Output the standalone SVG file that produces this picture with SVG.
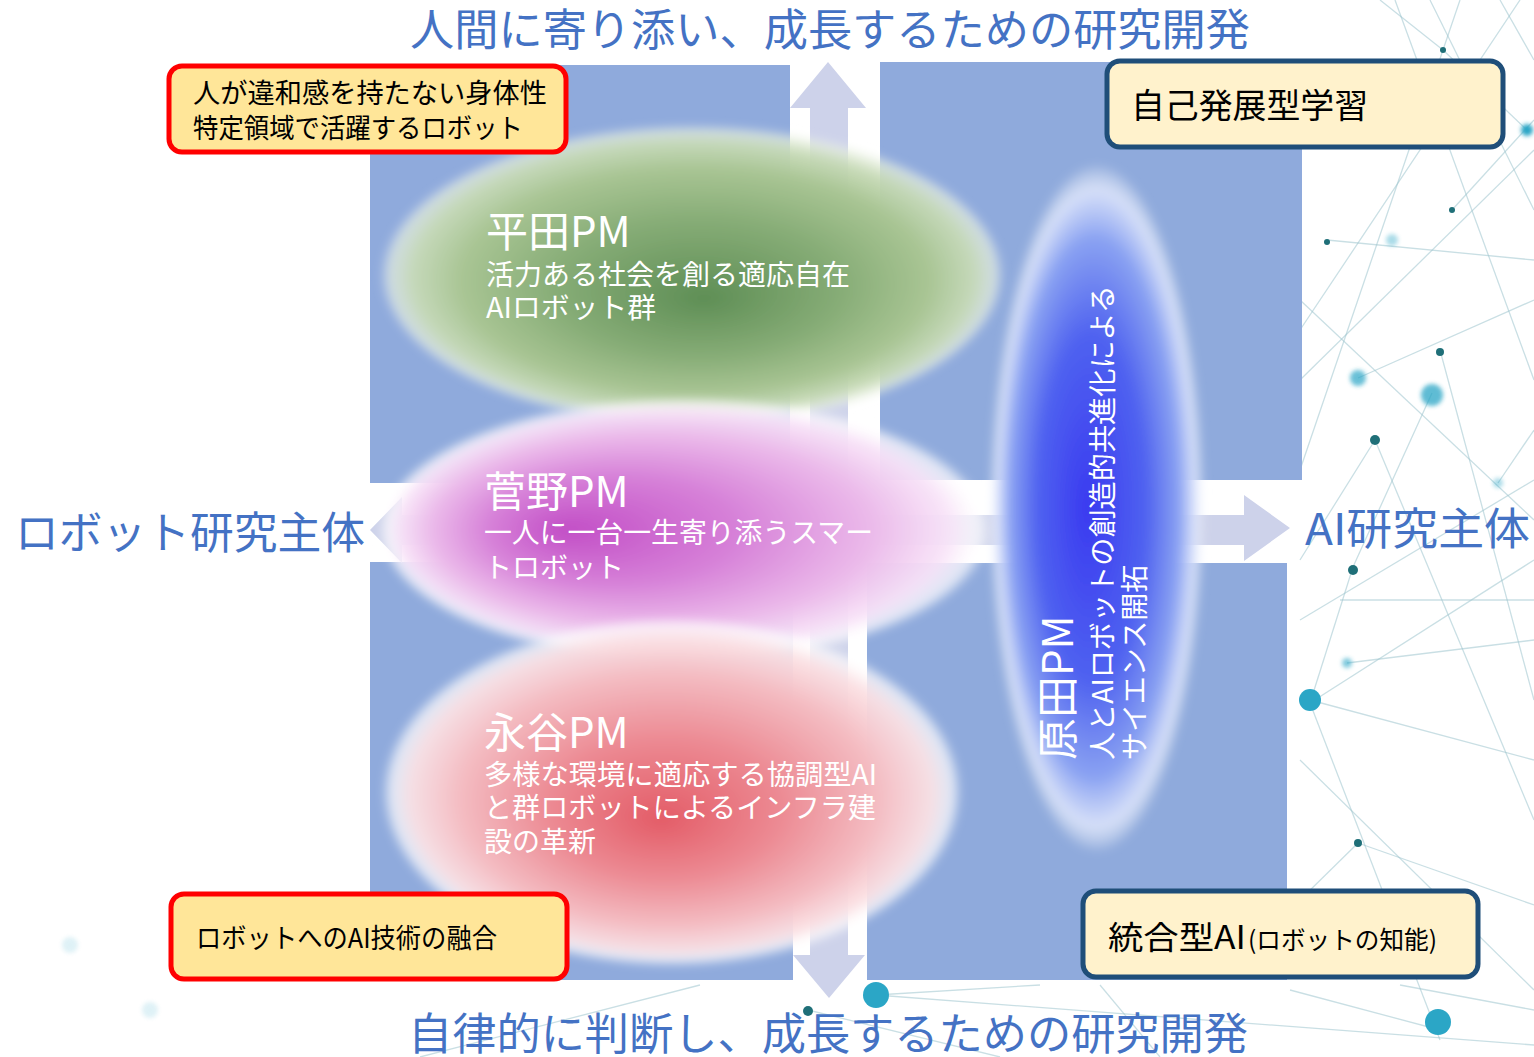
<svg xmlns="http://www.w3.org/2000/svg" width="1534" height="1057" viewBox="0 0 1534 1057">
<style>
.jp{font-family:"Noto Sans CJK JP","Noto Sans",sans-serif;}
.axis{fill:#4472C4;font-size:44px;}
.quad{fill:#8FAADC;}
.arrow{fill:#CDD2EA;}
.pmT{fill:#FFFFFF;font-size:42px;}
.pmS{fill:#FFFFFF;font-size:28px;}
.redbox{fill:#FFE699;stroke:#FF0000;stroke-width:5;}
.navybox{fill:#FFF2CC;stroke:#1F4E79;stroke-width:5;}
.btxt{fill:#000000;}
.net line{stroke:#9EC5CE;stroke-width:1.3;opacity:0.55;}
.dk{fill:#1F6F78;}
.tl{fill:#2BA6C6;}
</style>
<defs>
<filter id="soft" x="-20%" y="-20%" width="140%" height="140%"><feGaussianBlur stdDeviation="5"/></filter>
<filter id="dotblur" x="-100%" y="-100%" width="300%" height="300%"><feGaussianBlur stdDeviation="2"/></filter>
<radialGradient id="gGreen" cx="0.5" cy="0.5" r="0.5" fx="0.52" fy="0.58">
<stop offset="0" stop-color="#5E8E55"/>
<stop offset="0.45" stop-color="#86AC76"/>
<stop offset="0.75" stop-color="#A9C594"/>
<stop offset="0.9" stop-color="#C8DBB8" stop-opacity="0.95"/>
<stop offset="0.97" stop-color="#E8F0E0" stop-opacity="0.7"/>
<stop offset="1" stop-color="#FFFFFF" stop-opacity="0"/>
</radialGradient>
<radialGradient id="gPink" cx="0.5" cy="0.5" r="0.5" fx="0.3" fy="0.5">
<stop offset="0" stop-color="#C24EC6"/>
<stop offset="0.4" stop-color="#D680D8"/>
<stop offset="0.72" stop-color="#EBBAEA"/>
<stop offset="0.9" stop-color="#F8E4F8" stop-opacity="0.95"/>
<stop offset="0.97" stop-color="#FFFFFF" stop-opacity="0.7"/>
<stop offset="1" stop-color="#FFFFFF" stop-opacity="0"/>
</radialGradient>
<radialGradient id="gRed" cx="0.5" cy="0.5" r="0.5" fx="0.48" fy="0.58">
<stop offset="0" stop-color="#E35C67"/>
<stop offset="0.4" stop-color="#EC8A93"/>
<stop offset="0.72" stop-color="#F4BCC2"/>
<stop offset="0.9" stop-color="#FBE2E5" stop-opacity="0.95"/>
<stop offset="0.97" stop-color="#FFFFFF" stop-opacity="0.7"/>
<stop offset="1" stop-color="#FFFFFF" stop-opacity="0"/>
</radialGradient>
<radialGradient id="gBlue" cx="0.5" cy="0.5" r="0.5" fx="0.45" fy="0.5">
<stop offset="0" stop-color="#3A3AF0"/>
<stop offset="0.5" stop-color="#4F62F0"/>
<stop offset="0.78" stop-color="#8AA2F2"/>
<stop offset="0.92" stop-color="#DDE5FB" stop-opacity="0.9"/>
<stop offset="1" stop-color="#FFFFFF" stop-opacity="0"/>
</radialGradient>
</defs>
<rect x="0" y="0" width="1534" height="1057" fill="#FFFFFF"/>

<g id="background-network" class="net">
<line x1="1430" y1="0" x2="1534" y2="210"/>
<line x1="1300" y1="380" x2="1534" y2="150"/>
<line x1="1300" y1="300" x2="1534" y2="520"/>
<line x1="1310" y1="703" x2="1534" y2="560"/>
<line x1="1310" y1="703" x2="1440" y2="1040"/>
<line x1="1358" y1="378" x2="1534" y2="300"/>
<line x1="1375" y1="440" x2="1534" y2="820"/>
<line x1="1353" y1="567" x2="1310" y2="703"/>
<line x1="1300" y1="620" x2="1534" y2="480"/>
<line x1="1460" y1="0" x2="1300" y2="470"/>
<line x1="1520" y1="0" x2="1300" y2="330"/>
<line x1="1358" y1="843" x2="1534" y2="905"/>
<line x1="1440" y1="350" x2="1534" y2="700"/>
<line x1="1452" y1="210" x2="1534" y2="120"/>
<line x1="1327" y1="240" x2="1534" y2="260"/>
<line x1="1432" y1="393" x2="1353" y2="567"/>
<line x1="1347" y1="663" x2="1534" y2="640"/>
<line x1="1300" y1="760" x2="1534" y2="990"/>
<line x1="1290" y1="990" x2="1440" y2="1030"/>
<line x1="1500" y1="0" x2="1534" y2="60"/>
<line x1="1380" y1="0" x2="1443" y2="50"/>
<line x1="1443" y1="50" x2="1527" y2="130"/>
<line x1="1375" y1="440" x2="1300" y2="560"/>
<line x1="1498" y1="483" x2="1534" y2="430"/>
<line x1="1310" y1="700" x2="1534" y2="760"/>
<line x1="1358" y1="843" x2="1300" y2="900"/>
<line x1="1340" y1="600" x2="1534" y2="600"/>
<line x1="1395" y1="0" x2="1534" y2="380"/>
<line x1="876" y1="995" x2="1534" y2="1045"/>
<line x1="808" y1="1010" x2="1000" y2="1057"/>
<line x1="420" y1="1057" x2="700" y2="985"/>
<line x1="1100" y1="985" x2="1160" y2="1057"/>
<line x1="1400" y1="985" x2="1534" y2="1010"/>
<line x1="876" y1="995" x2="1040" y2="985"/>
<circle class="dk" cx="1443" cy="50" r="3"/>
<circle class="tl" cx="1527" cy="130" r="6" filter="url(#dotblur)"/>
<circle class="dk" cx="1327" cy="242" r="3"/>
<circle class="dk" cx="1452" cy="210" r="3"/>
<circle class="tl" cx="1392" cy="240" r="6" opacity="0.4" filter="url(#dotblur)"/>
<circle class="tl" cx="1358" cy="378" r="8" opacity="0.7" filter="url(#dotblur)"/>
<circle class="dk" cx="1440" cy="352" r="4"/>
<circle class="tl" cx="1432" cy="395" r="11" opacity="0.75" filter="url(#dotblur)"/>
<circle class="dk" cx="1375" cy="440" r="5"/>
<circle class="tl" cx="1498" cy="483" r="5" opacity="0.4" filter="url(#dotblur)"/>
<circle class="dk" cx="1353" cy="570" r="5"/>
<circle class="tl" cx="1347" cy="663" r="5" opacity="0.6" filter="url(#dotblur)"/>
<circle class="tl" cx="1310" cy="700" r="11"/>
<circle class="dk" cx="1358" cy="843" r="4"/>
<circle class="tl" cx="1438" cy="1022" r="13"/>
<circle class="tl" cx="876" cy="995" r="13"/>
<circle class="dk" cx="808" cy="1011" r="5"/>
<circle class="tl" cx="70" cy="945" r="8" opacity="0.15" filter="url(#dotblur)"/>
<circle class="tl" cx="150" cy="1010" r="8" opacity="0.15" filter="url(#dotblur)"/>
</g>

<g id="quadrants">
<rect class="quad" x="370" y="65" width="420" height="418"/>
<rect class="quad" x="880" y="62" width="422" height="418"/>
<rect class="quad" x="370" y="562" width="423" height="418"/>
<rect class="quad" x="867" y="563" width="420" height="417"/>
</g>

<g id="connectors">
<polygon class="arrow" points="370,530 402,497 402,515 1244,515 1244,495 1290,528 1244,561 1244,545 402,545 402,563"/>
<polygon class="arrow" points="828,62 866,108 848,108 848,955 865,955 829,998 793,955 810,955 810,108 790,108"/>
</g>

<g id="node-hirata">
<ellipse cx="692" cy="275" rx="312" ry="150" fill="url(#gGreen)" filter="url(#soft)"/>
<text class="jp pmT" x="486" y="247">平田PM</text>
<text class="jp pmS" x="486" y="285">活力ある社会を創る適応自在</text>
<text class="jp pmS" x="486" y="318" textLength="170" lengthAdjust="spacingAndGlyphs">AIロボット群</text>
</g>

<g id="node-sugano">
<ellipse cx="686" cy="530" rx="306" ry="132" fill="url(#gPink)" filter="url(#soft)"/>
<text class="jp pmT" x="484" y="507">菅野PM</text>
<text class="jp pmS" x="484" y="543" textLength="389" lengthAdjust="spacingAndGlyphs">一人に一台一生寄り添うスマー</text>
<text class="jp pmS" x="484" y="578">トロボット</text>
</g>

<g id="node-nagatani">
<ellipse cx="672" cy="792" rx="290" ry="174" fill="url(#gRed)" filter="url(#soft)"/>
<text class="jp pmT" x="484" y="748">永谷PM</text>
<text class="jp pmS" x="484" y="785" textLength="393" lengthAdjust="spacingAndGlyphs">多様な環境に適応する協調型AI</text>
<text class="jp pmS" x="484" y="818" textLength="392" lengthAdjust="spacingAndGlyphs">と群ロボットによるインフラ建</text>
<text class="jp pmS" x="484" y="852">設の革新</text>
</g>

<g id="node-harada">
<ellipse cx="1097" cy="508" rx="108" ry="345" fill="url(#gBlue)" filter="url(#soft)"/>
<text class="jp pmT" transform="translate(1073,760) rotate(-90)" x="0" y="0">原田PM</text>
<text class="jp pmS" transform="translate(1113,760) rotate(-90)" x="0" y="0" font-size="27" textLength="475" lengthAdjust="spacingAndGlyphs">人とAIロボットの創造的共進化による</text>
<text class="jp pmS" transform="translate(1145,760) rotate(-90)" x="0" y="0">サイエンス開拓</text>
</g>

<g id="box-embodiment">
<rect class="redbox" x="169" y="66" width="397" height="86" rx="13"/>
<text class="jp btxt" x="193" y="103" font-size="27" textLength="354" lengthAdjust="spacingAndGlyphs">人が違和感を持たない身体性</text>
<text class="jp btxt" x="193" y="138" font-size="27" textLength="330" lengthAdjust="spacingAndGlyphs">特定領域で活躍するロボット</text>
</g>

<g id="box-selflearning">
<rect class="navybox" x="1107" y="61" width="396" height="86" rx="13"/>
<text class="jp btxt" x="1131" y="118" font-size="34" textLength="237" lengthAdjust="spacingAndGlyphs">自己発展型学習</text>
</g>

<g id="box-fusion">
<rect class="redbox" x="171" y="894" width="396" height="85" rx="13"/>
<text class="jp btxt" x="196" y="948" font-size="27" textLength="301" lengthAdjust="spacingAndGlyphs">ロボットへのAI技術の融合</text>
</g>

<g id="box-integrated">
<rect class="navybox" x="1083" y="891" width="395" height="86" rx="13"/>
<text class="jp btxt" x="1108" y="949" font-size="32"><tspan textLength="138" lengthAdjust="spacingAndGlyphs">統合型AI</tspan><tspan x="1248" font-size="25" textLength="189" lengthAdjust="spacingAndGlyphs">(ロボットの知能)</tspan></text>
</g>

<g id="axis-labels">
<text class="jp axis" x="410" y="46" textLength="840" lengthAdjust="spacingAndGlyphs">人間に寄り添い、成長するための研究開発</text>
<text class="jp axis" x="408" y="1050" textLength="840" lengthAdjust="spacingAndGlyphs">自律的に判断し、成長するための研究開発</text>
<text class="jp axis" x="15" y="549" textLength="350" lengthAdjust="spacingAndGlyphs">ロボット研究主体</text>
<text class="jp axis" x="1305" y="545" textLength="225" lengthAdjust="spacingAndGlyphs">AI研究主体</text>
</g>
</svg>
